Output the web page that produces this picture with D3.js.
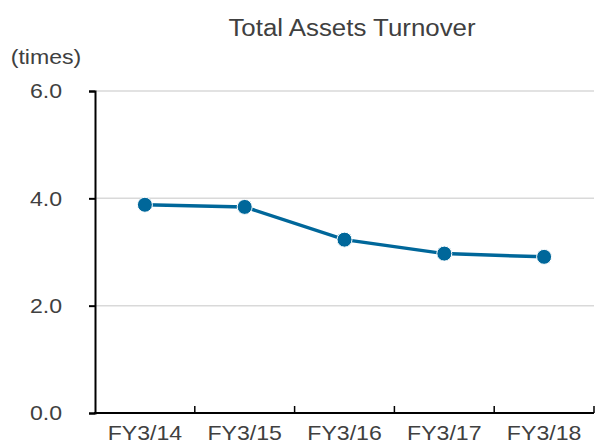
<!DOCTYPE html>
<html>
<head>
  <title>Total Assets Turnover</title>
  <script src="https://d3js.org/d3.v7.min.js"></script>
  <style>
  body {
    margin: 0;
    background: #fff;
  }
  text {
    font-family: "Liberation Sans", Arial, sans-serif;
    fill: #404040;
  }
  </style>
</head>
<body>
  <script>
    var categories = ["FY3/14", "FY3/15", "FY3/16", "FY3/17", "FY3/18"];
    var turnover = [3.88, 3.84, 3.23, 2.97, 2.91];
    var yTicks = [0, 2, 4, 6];

    var width = 595;
    var height = 444;
    var plotLeft = 95, plotRight = 594, plotTop = 91, plotBottom = 413;
    var stretch = 1.1;

    var svg = d3.select("body")
      .append("svg")
      .attr("width", width)
      .attr("height", height);

    var x = d3.scaleBand()
      .domain(categories)
      .range([plotLeft, plotRight]);

    var y = d3.scaleLinear()
      .domain([0, 6])
      .range([plotBottom, plotTop]);

    // gridlines
    svg.append("g")
      .selectAll("line")
      .data(yTicks.filter(function(d) { return d > 0; }))
      .enter()
      .append("line")
      .attr("x1", plotLeft)
      .attr("x2", plotRight)
      .attr("y1", function(d) { return y(d); })
      .attr("y2", function(d) { return y(d); })
      .attr("stroke", "#d9d9d9")
      .attr("stroke-width", 1.5);

    // y axis
    var yAxis = svg.append("g")
      .attr("transform", "translate(" + plotLeft + ",0)")
      .call(d3.axisLeft(y).tickValues(yTicks).tickFormat(d3.format(".1f")).tickSize(6).tickPadding(28));
    yAxis.select(".domain").attr("stroke", "#000").attr("stroke-width", 2);
    yAxis.selectAll(".tick line").attr("stroke", "#000").attr("stroke-width", 2);
    yAxis.selectAll(".tick text")
      .attr("font-size", 21)
      .attr("x", -49)
      .attr("text-anchor", "middle")
      .attr("fill", "#404040")
      .style("font-family", "'Liberation Sans', Arial, sans-serif");

    // x axis
    var xAxis = svg.append("g")
      .attr("transform", "translate(0," + plotBottom + ")")
      .call(d3.axisBottom(x).tickSize(0).tickPadding(12));
    xAxis.select(".domain").remove();
    xAxis.selectAll(".tick text")
      .attr("font-size", 21)
      .attr("fill", "#404040")
      .style("font-family", "'Liberation Sans', Arial, sans-serif");

    svg.append("line")
      .attr("x1", plotLeft - 1)
      .attr("x2", plotRight)
      .attr("y1", plotBottom)
      .attr("y2", plotBottom)
      .attr("stroke", "#000")
      .attr("stroke-width", 2);

    var bounds = categories.slice(1).map(function(c) { return x(c); }).concat([plotRight]);
    svg.append("g")
      .selectAll("line")
      .data(bounds)
      .enter()
      .append("line")
      .attr("x1", function(d) { return d; })
      .attr("x2", function(d) { return d; })
      .attr("y1", plotBottom)
      .attr("y2", plotBottom - 7)
      .attr("stroke", "#000")
      .attr("stroke-width", 1.5);

    // line + markers
    var line = d3.line()
      .x(function(d, i) { return x(categories[i]) + x.bandwidth() / 2; })
      .y(function(d) { return y(d); });

    svg.append("path")
      .datum(turnover)
      .attr("d", line)
      .attr("fill", "none")
      .attr("stroke", "#00679a")
      .attr("stroke-width", 3.5);

    svg.append("g")
      .selectAll("circle")
      .data(turnover)
      .enter()
      .append("circle")
      .attr("cx", function(d, i) { return x(categories[i]) + x.bandwidth() / 2; })
      .attr("cy", function(d) { return y(d); })
      .attr("r", 7.5)
      .attr("fill", "#00679a")
      .attr("stroke", "#fff")
      .attr("stroke-width", 1);

    // titles
    svg.append("text")
      .attr("x", 352)
      .attr("y", 36)
      .attr("text-anchor", "middle")
      .attr("font-size", 23.5)
      .text("Total Assets Turnover");

    svg.append("text")
      .attr("x", 46)
      .attr("y", 64)
      .attr("text-anchor", "middle")
      .attr("font-size", 21)
      .text("(times)");

    // the source text is a bit wider than Liberation Sans, stretch it
    svg.selectAll("text").each(function() {
      var w = this.getComputedTextLength();
      d3.select(this)
        .attr("textLength", w * stretch)
        .attr("lengthAdjust", "spacingAndGlyphs");
    });
  </script>
</body>
</html>
